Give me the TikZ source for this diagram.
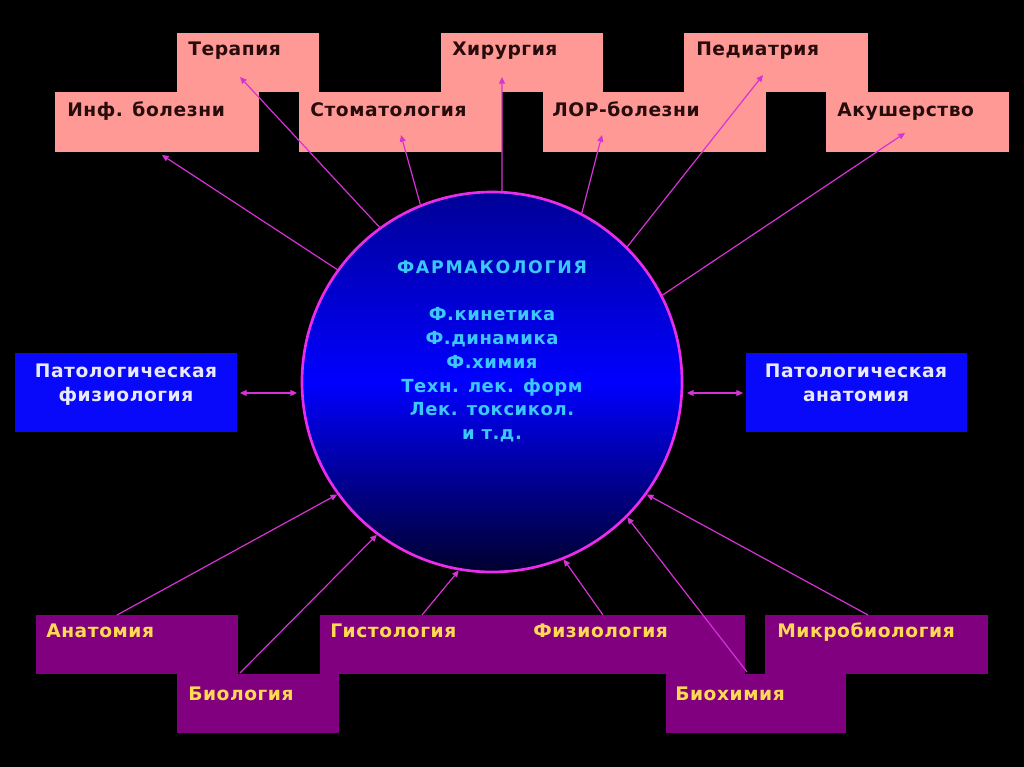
\documentclass[tikz,border=0pt]{standalone}
\usepackage{fontspec}
\setmainfont{DejaVu Sans}[LetterSpace=3]
\newfontfamily\widefont{DejaVu Sans}[LetterSpace=10]
\usetikzlibrary{arrows.meta,fit}
\definecolor{bg}{RGB}{0,0,0}
\definecolor{pinkc}{RGB}{255,153,150}
\definecolor{pinktext}{RGB}{40,12,12}
\definecolor{purplec}{RGB}{128,0,128}
\definecolor{yellowtext}{RGB}{255,218,80}
\definecolor{bluebox}{RGB}{8,8,250}
\definecolor{boxwhite}{RGB}{232,232,255}
\definecolor{cyantext}{RGB}{60,200,255}
\definecolor{magline}{RGB}{215,50,215}
\definecolor{magborder}{RGB}{235,45,235}
\definecolor{circtop}{RGB}{0,0,150}
\definecolor{circmid}{RGB}{0,0,255}
\definecolor{circbot}{RGB}{0,0,45}
\tikzset{
  pinkbox/.style={fill=pinkc, draw=none, inner sep=0pt},
  purplebox/.style={fill=purplec, draw=none, inner sep=0pt},
  bluerect/.style={fill=bluebox, draw=none, inner sep=0pt},
  toplabel/.style={anchor=base west, inner sep=0pt, text=pinktext, font=\fontsize{14}{16}\selectfont\bfseries},
  botlabel/.style={anchor=base west, inner sep=0pt, text=yellowtext, font=\fontsize{14}{16}\selectfont\bfseries},
  sidelabel/.style={anchor=base, inner sep=0pt, text=boxwhite, align=center, font=\fontsize{14}{18}\selectfont\bfseries},
  circlabel/.style={anchor=base, inner sep=0pt, text=cyantext, font=\fontsize{13.5}{17.8}\selectfont\bfseries},
  conn/.style={draw=magline, line width=0.9pt, -{Triangle[length=5pt,width=4.5pt]}},
  dconn/.style={draw=magline, line width=0.9pt, {Triangle[length=5pt,width=4.5pt]}-{Triangle[length=5pt,width=4.5pt]}}
}
\begin{document}
\begin{tikzpicture}[x=0.75pt,y=-0.75pt]
\fill[bg] (0,0) rectangle (1024,767);
\useasboundingbox (0,0) rectangle (1024,767);
% top pink boxes
\node[pinkbox, fit={(177,33) (319,92)}] (ter) {};
\node[pinkbox, fit={(55,92) (259,152)}] (inf) {};
\node[pinkbox, fit={(299,92) (502,152)}] (sto) {};
\node[pinkbox, fit={(441,33) (603,92)}] (hir) {};
\node[pinkbox, fit={(543,92) (766,152)}] (lor) {};
\node[pinkbox, fit={(684,33) (868,92)}] (ped) {};
\node[pinkbox, fit={(826,92) (1009,152)}] (aku) {};
\node[toplabel] (terT) at (188,56) {Терапия};
\node[toplabel] (infT) at (67,117) {Инф. болезни};
\node[toplabel] (stoT) at (310,117) {Стоматология};
\node[toplabel] (hirT) at (452,56) {Хирургия};
\node[toplabel] (lorT) at (552,117) {ЛОР-болезни};
\node[toplabel] (pedT) at (696,56) {Педиатрия};
\node[toplabel] (akuT) at (837,117) {Акушерство};
% bottom purple boxes
\node[purplebox, fit={(36,615) (238,674)}] (ana) {};
\node[purplebox, fit={(177,674) (339,733)}] (bio) {};
\node[purplebox, fit={(320,615) (532,674)}] (gis) {};
\node[purplebox, fit={(532,615) (745,674)}] (fiz) {};
\node[purplebox, fit={(765,615) (988,674)}] (mik) {};
\node[purplebox, fit={(666,674) (846,733)}] (bhm) {};
\node[botlabel] (anaT) at (46,637) {Анатомия};
\node[botlabel] (bioT) at (188,700) {Биология};
\node[botlabel] (gisT) at (330,637) {Гистология};
\node[botlabel] (fizT) at (533,637) {Физиология};
\node[botlabel] (mikT) at (777,637) {Микробиология};
\node[botlabel] (bhmT) at (675,700) {Биохимия};
% side blue boxes
\node[bluerect, fit={(15,353) (237,432)}] (pf) {};
\node[bluerect, fit={(746,353) (967,432)}] (pa) {};
\node[sidelabel] (pfT) at (126,401) {Патологическая\\физиология};
\node[sidelabel] (paT) at (856,401) {Патологическая\\анатомия};
% central circle
\node[circle, minimum size=285pt, inner sep=0pt, top color=circtop, bottom color=circbot, middle color=circmid, draw=magborder, line width=2pt] (ph) at (492,382) {};
\node[circlabel, font=\fontsize{13}{14}\widefont\bfseries] (phT) at (492,273) {ФАРМАКОЛОГИЯ};
\node[circlabel, align=center] (phL) at (492,439.5) {Ф.кинетика\\Ф.динамика\\Ф.химия\\Техн. лек. форм\\Лек. токсикол.\\и т.д.};
% arrow end points
\coordinate (infH) at (162,155);
\coordinate (terH) at (240,77);
\coordinate (stoH) at (401,135);
\coordinate (hirH) at (502,77);
\coordinate (lorH) at (602,135);
\coordinate (pedH) at (763,75);
\coordinate (akuH) at (905,133);
\coordinate (anaS) at (117,615);
\coordinate (bioS) at (240,673);
\coordinate (gisS) at (422,615);
\coordinate (fizS) at (603,615);
\coordinate (bhmS) at (747,672);
\coordinate (mikS) at (868,615);
\coordinate (pfE) at (240,393);
\coordinate (paE) at (743,393);
\coordinate (phW) at (297,393);
\coordinate (phE) at (687,393);
% connectors
\draw[conn] (ph.144) -- (infH);
\draw[conn] (ph.126) -- (terH);
\draw[conn] (ph.112) -- (stoH);
\draw[conn] (ph.87) -- (hirH);
\draw[conn] (ph.62) -- (lorH);
\draw[conn] (ph.45) -- (pedH);
\draw[conn] (ph.27) -- (akuH);
\draw[conn] (anaS) -- (ph.216);
\draw[conn] (bioS) -- (ph.233);
\draw[conn] (gisS) -- (ph.260);
\draw[conn] (fizS) -- (ph.292);
\draw[conn] (bhmS) -- (ph.315);
\draw[conn] (mikS) -- (ph.324);
\draw[dconn] (pfE) -- (phW);
\draw[dconn] (phE) -- (paE);
\end{tikzpicture}
\end{document}
